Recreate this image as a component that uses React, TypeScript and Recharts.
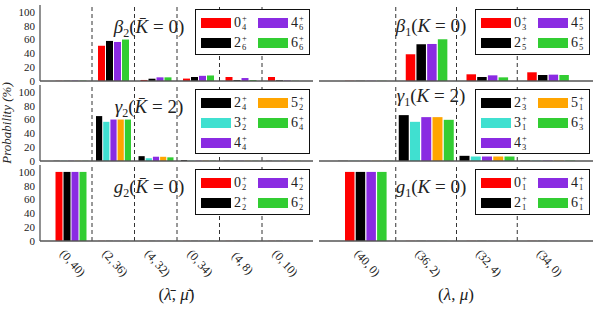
import { BarChart, Bar, XAxis, YAxis, ReferenceLine, Legend } from "recharts";

const FONT = '"Liberation Serif", "DejaVu Serif", serif';
const BORDER = "#555";

// categories
const catsBar = ["(0,\u200940)", "(2,\u200936)", "(4,\u200932)", "(0,\u200934)", "(4,\u20098)", "(0,\u200910)"];
const cats = ["(40,\u20090)", "(36,\u20092)", "(32,\u20094)", "(34,\u20090)"];
const yTicks = [0, 20, 40, 60, 80, 100];

const RED = "#ff0000";
const BLACK = "#000000";
const PURPLE = "#8a2be2";
const GREEN = "#32cd32";
const TURQ = "#40e0d0";
const ORANGE = "#ffa500";

// beta_2 (K bar = 0)
const b2_0 = [0.3, 51, 1.5, 3.5, 5.8, 5.8];
const b2_2 = [0.3, 58, 3.3, 5.8, 1.3, 1.0];
const b2_4 = [0.5, 56.5, 5.3, 7.5, 4.3, 0.6];
const b2_6 = [0.5, 60, 5.3, 8, 1.3, 0.3];

// beta_1 (K = 0)
const b1_0 = [0.3, 38.7, 9.7, 12.6];
const b1_2 = [0.3, 53.2, 5.8, 8.7];
const b1_4 = [0.3, 53.6, 8.2, 9.2];
const b1_6 = [0.3, 60.4, 5.3, 8.7];

// gamma_2 (K bar = 2)
const c2_2 = [0.3, 65, 7, 1.2, 0.3, 0.3];
const c2_3 = [0.3, 56.7, 4, 0.4, 0.3, 0.3];
const c2_4 = [0.3, 60, 6.2, 0.4, 0.3, 0.3];
const c2_5 = [0.3, 60, 6.1, 0.4, 0.3, 0.3];
const c2_6 = [0.3, 60, 5.3, 0.4, 0.3, 0.3];

// gamma_1 (K = 2)
const c1_2 = [0.3, 66.4, 7.5, 0.5];
const c1_3 = [0.3, 56.7, 6.5, 0.5];
const c1_4 = [0.3, 63.5, 6.5, 0.5];
const c1_5 = [0.3, 63.5, 6.5, 0.5];
const c1_6 = [0.3, 59.6, 6.5, 0.5];

// g_2 (K bar = 0)
const g2_0 = [100, 0.2, 0.2, 0.2, 0.2, 0.2];
const g2_2 = [100, 0.2, 0.2, 0.2, 0.2, 0.2];
const g2_4 = [100, 0.2, 0.2, 0.2, 0.2, 0.2];
const g2_6 = [100, 0.2, 0.2, 0.2, 0.2, 0.2];

// g_1 (K = 0)
const g1_0 = [100, 0.2, 0.2, 0.2];
const g1_2 = [100, 0.2, 0.2, 0.2];
const g1_4 = [100, 0.2, 0.2, 0.2];
const g1_6 = [100, 0.2, 0.2, 0.2];

type Series = { key: string; base: string; sub: string; color: string; values: number[] };

const sBeta2: Series[] = [
  { key: "a", base: "0", sub: "4", color: RED, values: b2_0 },
  { key: "b", base: "2", sub: "6", color: BLACK, values: b2_2 },
  { key: "c", base: "4", sub: "6", color: PURPLE, values: b2_4 },
  { key: "d", base: "6", sub: "6", color: GREEN, values: b2_6 },
];
const sBeta1: Series[] = [
  { key: "a", base: "0", sub: "3", color: RED, values: b1_0 },
  { key: "b", base: "2", sub: "5", color: BLACK, values: b1_2 },
  { key: "c", base: "4", sub: "5", color: PURPLE, values: b1_4 },
  { key: "d", base: "6", sub: "5", color: GREEN, values: b1_6 },
];
const sGamma2: Series[] = [
  { key: "a", base: "2", sub: "4", color: BLACK, values: c2_2 },
  { key: "b", base: "3", sub: "2", color: TURQ, values: c2_3 },
  { key: "c", base: "4", sub: "4", color: PURPLE, values: c2_4 },
  { key: "d", base: "5", sub: "2", color: ORANGE, values: c2_5 },
  { key: "e", base: "6", sub: "4", color: GREEN, values: c2_6 },
];
const sGamma1: Series[] = [
  { key: "a", base: "2", sub: "3", color: BLACK, values: c1_2 },
  { key: "b", base: "3", sub: "1", color: TURQ, values: c1_3 },
  { key: "c", base: "4", sub: "3", color: PURPLE, values: c1_4 },
  { key: "d", base: "5", sub: "1", color: ORANGE, values: c1_5 },
  { key: "e", base: "6", sub: "3", color: GREEN, values: c1_6 },
];
const sG2: Series[] = [
  { key: "a", base: "0", sub: "2", color: RED, values: g2_0 },
  { key: "b", base: "2", sub: "2", color: BLACK, values: g2_2 },
  { key: "c", base: "4", sub: "2", color: PURPLE, values: g2_4 },
  { key: "d", base: "6", sub: "2", color: GREEN, values: g2_6 },
];
const sG1: Series[] = [
  { key: "a", base: "0", sub: "1", color: RED, values: g1_0 },
  { key: "b", base: "2", sub: "1", color: BLACK, values: g1_2 },
  { key: "c", base: "4", sub: "1", color: PURPLE, values: g1_4 },
  { key: "d", base: "6", sub: "1", color: GREEN, values: g1_6 },
];

// panel titles: greek letter, subscript, barred K, K value
const titles = [
  { x: 149, y: 33, greek: "\u03b2", sub: "2", bar: true, k: "0" },
  { x: 431, y: 32, greek: "\u03b2", sub: "1", bar: false, k: "0" },
  { x: 149, y: 113, greek: "\u03b3", sub: "2", bar: true, k: "2" },
  { x: 431, y: 102, greek: "\u03b3", sub: "1", bar: false, k: "2" },
  { x: 149, y: 193, greek: "g", sub: "2", bar: true, k: "0" },
  { x: 431, y: 193, greek: "g", sub: "1", bar: false, k: "0" },
];

const SlantTick = (props: any) => {
  const { x, y, payload } = props;
  return (
    <g transform={`translate(${x + 2},${y + 22})`}>
      <text transform="rotate(48)" textAnchor="middle" dominantBaseline="central" fontSize={12} fontFamily={FONT} fill="#222">
        {payload.value}
      </text>
    </g>
  );
};

const XTitle = (props: any) => {
  const { viewBox, bar } = props;
  const { x, y, width, height } = viewBox;
  return (
    <text x={x + width / 2} y={y + height - 3} textAnchor="middle" fontSize={17} fontFamily={FONT} fill="#222">
      (<tspan fontStyle="italic">{bar ? "\u03bb\u0304" : "\u03bb"}</tspan>,{" "}
      <tspan fontStyle="italic">{bar ? "\u03bc\u0304" : "\u03bc"}</tspan>)
    </text>
  );
};

function LegendBox({ series }: { series: Series[] }) {
  const rows = Math.ceil(series.length / 2);
  return (
    <div
      style={{
        width: 115,
        height: rows === 2 ? 46 : 65,
        boxSizing: "border-box",
        border: "1px solid #111",
        background: "#fff",
        padding: "3px 0 0 5px",
        display: "grid",
        gridAutoFlow: "column",
        gridTemplateRows: `repeat(${rows}, 20px)`,
        gridTemplateColumns: "57px 50px",
        fontFamily: FONT,
        color: "#222",
      }}
    >
      {series.map((s) => (
        <div key={s.key} style={{ display: "flex", alignItems: "center" }}>
          <span style={{ width: 30, height: 10, background: s.color, marginRight: 3 }} />
          <span style={{ fontSize: 14, lineHeight: "14px" }}>{s.base}</span>
          <span style={{ display: "inline-flex", flexDirection: "column", fontSize: 8.5, lineHeight: "9px", marginLeft: 1 }}>
            <span>+</span>
            <span>{s.sub}</span>
          </span>
        </div>
      ))}
    </div>
  );
}

type PanelProps = {
  cats: string[];
  series: Series[];
  left: number;
  top: number;
  width: number;
  yLabels: boolean;
  xLabels: boolean;
  xBar?: boolean;
  padL: number;
  padR: number;
  barSize: number;
  barGap: number;
  legendLeft: number;
};

function Panel(p: PanelProps) {
  const data = p.cats.map((c, i) => {
    const row: any = { cat: c };
    p.series.forEach((s) => (row[s.key] = s.values[i]));
    return row;
  });
  const pad = { left: p.padL, right: p.padR };
  const axisLine = { stroke: BORDER, strokeWidth: 1.3 };
  const height = p.xLabels ? 139 : 78;
  return (
    <div style={{ position: "absolute", left: p.left, top: p.top }}>
      <BarChart
        width={p.width}
        height={height}
        data={data}
        margin={{ top: 1, right: 1, bottom: 0, left: p.yLabels ? 0 : 1 }}
        barSize={p.barSize}
        barGap={p.barGap}
      >
        <XAxis
          dataKey="cat"
          padding={pad}
          height={p.xLabels ? 62 : 1}
          axisLine={axisLine}
          tickLine={false}
          tickSize={0}
          tickMargin={0}
          interval={0}
          tick={p.xLabels ? <SlantTick /> : false}
          label={p.xLabels ? <XTitle bar={p.xBar} /> : undefined}
        />
        <XAxis
          xAxisId="top"
          dataKey="cat"
          orientation="top"
          padding={pad}
          height={0}
          tick={false}
          tickLine={false}
          axisLine={axisLine}
        />
        <YAxis
          domain={[0, 110]}
          ticks={yTicks}
          interval={0}
          width={p.yLabels ? 40 : 0}
          tick={p.yLabels ? { fontSize: 11, fontFamily: FONT, fill: "#222" } : false}
          tickLine={false}
          tickSize={0}
          tickMargin={5}
          axisLine={axisLine}
        />
        <YAxis yAxisId="in" orientation="left" mirror domain={[0, 110]} ticks={yTicks} interval={0} width={0} tick={false} tickSize={3} tickLine={{ stroke: BORDER }} axisLine={false} />
        <YAxis yAxisId="r" orientation="right" mirror domain={[0, 110]} ticks={yTicks} interval={0} width={0} tick={false} tickSize={3} tickLine={{ stroke: BORDER }} axisLine={axisLine} />
        {p.cats.slice(1).map((c) => (
          <ReferenceLine key={c} x={c} position="start" stroke="#333" strokeDasharray="4 3" />
        ))}
        {p.series.map((s) => (
          <Bar key={s.key} dataKey={s.key} fill={s.color} isAnimationActive={false} />
        ))}
        <Legend
          layout="vertical"
          align="center"
          verticalAlign="middle"
          wrapperStyle={{ left: p.legendLeft, top: 5, width: 115 }}
          content={() => <LegendBox series={p.series} />}
        />
      </BarChart>
    </div>
  );
}

export default function App() {
  return (
    <div style={{ position: "absolute", left: 0, top: 0, width: 599, height: 309, background: "#fff", overflow: "hidden" }}>
      <style>{`.recharts-surface{overflow:visible}`}</style>
      <Panel cats={catsBar} series={sBeta2} left={0} top={4} width={314} yLabels xLabels={false} padL={9.5} padR={8.5} barSize={7} barGap={1} legendLeft={195} />
      <Panel cats={cats} series={sBeta1} left={318} top={4} width={276} yLabels={false} xLabels={false} padL={16} padR={15} barSize={9.5} barGap={1.2} legendLeft={157} />
      <Panel cats={catsBar} series={sGamma2} left={0} top={84} width={314} yLabels xLabels={false} padL={9.5} padR={8.5} barSize={6.2} barGap={1} legendLeft={195} />
      <Panel cats={cats} series={sGamma1} left={318} top={84} width={276} yLabels={false} xLabels={false} padL={16} padR={15} barSize={10} barGap={1.25} legendLeft={157} />
      <Panel cats={catsBar} series={sG2} left={0} top={164} width={314} yLabels xLabels xBar padL={9.5} padR={8.5} barSize={7} barGap={1} legendLeft={195} />
      <Panel cats={cats} series={sG1} left={318} top={164} width={276} yLabels={false} xLabels padL={16} padR={15} barSize={9.5} barGap={1.2} legendLeft={157} />

      <svg width={599} height={309} style={{ position: "absolute", left: 0, top: 0, pointerEvents: "none" }}>
        {titles.map((t, i) => (
          <text key={i} x={t.x} y={t.y} textAnchor="middle" fontFamily={FONT} fontSize={19} fill="#222">
            <tspan fontStyle="italic">{t.greek}</tspan>
            <tspan fontSize={12} dy={4}>{t.sub}</tspan>
            <tspan dy={-4}>(</tspan>
            <tspan fontStyle="italic">{t.bar ? "K\u0304" : "K"}</tspan>
            <tspan>{` = ${t.k})`}</tspan>
          </text>
        ))}
        <text x={11} y={123} transform="rotate(-90, 11, 123)" textAnchor="middle" fontFamily={FONT} fontSize={13} fontStyle="italic" fill="#222">
          Probability (%)
        </text>
      </svg>
    </div>
  );
}
